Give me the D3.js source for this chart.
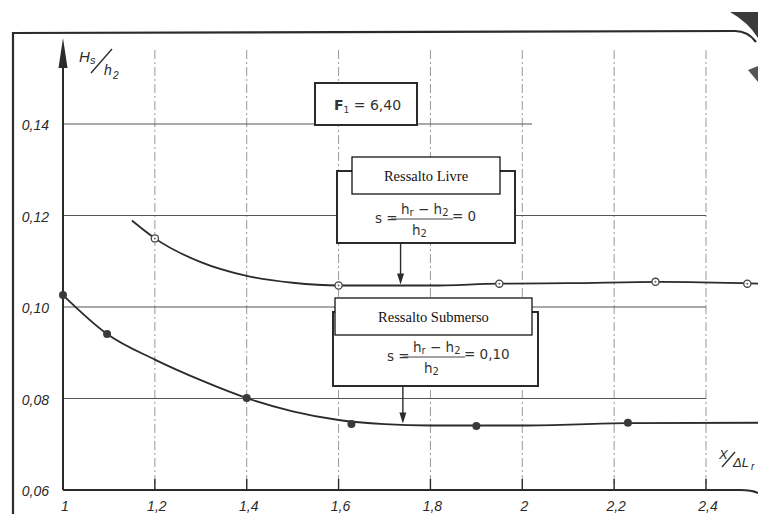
<!DOCTYPE html>
<html>
<head>
<meta charset="utf-8">
<script src="https://cdn.jsdelivr.net/npm/d3@7"></script>
<style>
  body { margin: 0; background: #fff; }
  svg { display: block; }
  .tick-label { font-family: "Liberation Sans", "DejaVu Sans", sans-serif; font-style: italic; font-size: 14px; fill: #2a2a2a; }
  .box-label { font-family: "Liberation Serif", "Times New Roman", serif; font-size: 14.5px; fill: #111; }
  .formula { font-family: "DejaVu Sans", sans-serif; font-size: 13.5px; fill: #333; }
</style>
</head>
<body>
<script>
// axis ticks
var xTicks = [1, 1.2, 1.4, 1.6, 1.8, 2.0, 2.2, 2.4];
var xTickLabels = ["1", "1,2", "1,4", "1,6", "1,8", "2", "2,2", "2,4"];
var yTicks = [0.06, 0.08, 0.10, 0.12, 0.14];
var yTickLabels = ["0,06", "0,08", "0,10", "0,12", "0,14"];

// Ressalto Livre (s = 0) - drawn curve and measured points (open circles)
var livreCurveX = [1.15, 1.2, 1.3, 1.4, 1.5, 1.6, 1.8, 1.95, 2.1, 2.3, 2.52];
var livreCurveY = [0.1189, 0.1150, 0.1098, 0.1068, 0.1053, 0.1047, 0.1047, 0.1051, 0.1052, 0.1055, 0.1051];
var livrePtsX = [1.2, 1.6, 1.95, 2.29, 2.49];
var livrePtsY = [0.1150, 0.1047, 0.1051, 0.1055, 0.1051];

// Ressalto Submerso (s = 0,10) - drawn curve and measured points (filled)
var subCurveX = [1.0, 1.096, 1.2, 1.3, 1.4, 1.5, 1.6, 1.7, 1.8, 2.0, 2.23, 2.52];
var subCurveY = [0.1026, 0.0941, 0.0885, 0.0840, 0.0801, 0.0772, 0.0753, 0.0744, 0.0741, 0.0741, 0.0746, 0.0747];
var subPtsX = [1.0, 1.096, 1.4, 1.628, 1.90, 2.23];
var subPtsY = [0.1026, 0.0941, 0.0801, 0.0744, 0.0740, 0.0747];

var width = 758, height = 514;
var ink = "#2b2b2b";

var svg = d3.select("body").append("svg")
  .attr("width", width)
  .attr("height", height);

var x = d3.scaleLinear().domain([1, 2.4]).range([63, 706]);
var y = d3.scaleLinear().domain([0.06, 0.14]).range([490, 124]);

// outer frame of the scanned page
svg.append("path")
  .attr("d", "M13,514 L13,33 L735,31 Q748,31 756,42")
  .attr("fill", "none").attr("stroke", ink).attr("stroke-width", 2.2);
// dark corner of the scan
svg.append("path")
  .attr("d", "M730,12 L758,12 L758,38 Q748,22 730,12 Z")
  .attr("fill", "#3a3a3a");
svg.append("path")
  .attr("d", "M748,70 L758,66 L758,82 Z")
  .attr("fill", "#555");

// vertical grid (dash-dot)
svg.append("g").selectAll("line")
  .data(xTicks.slice(1))
  .enter().append("line")
  .attr("x1", function(d){ return x(d); })
  .attr("x2", function(d){ return x(d); })
  .attr("y1", 50)
  .attr("y2", y(0.06))
  .attr("stroke", "#999").attr("stroke-width", 1)
  .attr("stroke-dasharray", "9,3,2,3");

// horizontal grid
svg.append("g").selectAll("line")
  .data(yTicks.slice(1))
  .enter().append("line")
  .attr("x1", x(1))
  .attr("x2", function(d){ return d === 0.14 ? 532 : x(2.4); })
  .attr("y1", function(d){ return y(d); })
  .attr("y2", function(d){ return y(d); })
  .attr("stroke", "#555").attr("stroke-width", 1.1);

// x axis line
svg.append("path")
  .attr("d", "M" + x(1) + "," + y(0.06) + " L740," + y(0.06) + " Q752," + y(0.06) + " 758," + (y(0.06) + 3))
  .attr("fill", "none").attr("stroke", ink).attr("stroke-width", 2);

// x ticks
svg.append("g").selectAll("line")
  .data(xTicks.slice(1))
  .enter().append("line")
  .attr("x1", function(d){ return x(d); })
  .attr("x2", function(d){ return x(d); })
  .attr("y1", y(0.06))
  .attr("y2", y(0.06) - 11)
  .attr("stroke", ink).attr("stroke-width", 1.4);

svg.append("g").selectAll("text")
  .data(xTicks)
  .enter().append("text")
  .attr("class", "tick-label")
  .attr("x", function(d){ return x(d) + 2; })
  .attr("y", 511)
  .attr("text-anchor", "middle")
  .text(function(d, i){ return xTickLabels[i]; });

// y axis with arrow
svg.append("line")
  .attr("x1", x(1)).attr("x2", x(1))
  .attr("y1", y(0.06)).attr("y2", 60)
  .attr("stroke", ink).attr("stroke-width", 2);
svg.append("path")
  .attr("d", "M" + x(1) + ",38 L" + (x(1) + 4.5) + ",68 L" + (x(1) - 4.5) + ",68 Z")
  .attr("fill", ink);

svg.append("g").selectAll("text")
  .data(yTicks)
  .enter().append("text")
  .attr("class", "tick-label")
  .attr("x", 49)
  .attr("y", function(d){ return y(d) + 6; })
  .attr("text-anchor", "end")
  .text(function(d, i){ return yTickLabels[i]; });

// y axis title Hs/h2
var yt = svg.append("g").attr("class", "tick-label");
yt.append("text").attr("x", 79).attr("y", 62).style("font-size", "15px").text("H");
yt.append("text").attr("x", 90).attr("y", 64).style("font-size", "11px").text("s");
yt.append("line").attr("x1", 91).attr("y1", 73).attr("x2", 112).attr("y2", 49)
  .attr("stroke", ink).attr("stroke-width", 1.4);
yt.append("text").attr("x", 104).attr("y", 75).style("font-size", "14px").text("h");
yt.append("text").attr("x", 113).attr("y", 79).style("font-size", "10px").text("2");

// x axis title X/ΔLr
var xt = svg.append("g").attr("class", "tick-label");
xt.append("text").attr("x", 719).attr("y", 459).style("font-size", "13px").text("X");
xt.append("line").attr("x1", 722).attr("y1", 467).attr("x2", 735).attr("y2", 452)
  .attr("stroke", ink).attr("stroke-width", 1.3);
xt.append("text").attr("x", 733).attr("y", 467).style("font-size", "13px").text("ΔL");
xt.append("text").attr("x", 751).attr("y", 470).style("font-size", "10px").text("r");

// curves
var line = d3.line()
  .x(function(d){ return x(d[0]); })
  .y(function(d){ return y(d[1]); })
  .curve(d3.curveMonotoneX);

svg.append("path")
  .datum(d3.zip(livreCurveX, livreCurveY))
  .attr("d", line)
  .attr("fill", "none").attr("stroke", ink).attr("stroke-width", 1.8);

svg.append("path")
  .datum(d3.zip(subCurveX, subCurveY))
  .attr("d", line)
  .attr("fill", "none").attr("stroke", ink).attr("stroke-width", 1.8);

// measured points
var lp = svg.append("g").selectAll("g")
  .data(d3.zip(livrePtsX, livrePtsY))
  .enter().append("g");
lp.append("circle")
  .attr("cx", function(d){ return x(d[0]); })
  .attr("cy", function(d){ return y(d[1]); })
  .attr("r", 3.6)
  .attr("fill", "#fff").attr("stroke", "#444").attr("stroke-width", 1.3);
lp.append("circle")
  .attr("cx", function(d){ return x(d[0]); })
  .attr("cy", function(d){ return y(d[1]); })
  .attr("r", 1)
  .attr("fill", "#666");

svg.append("g").selectAll("circle")
  .data(d3.zip(subPtsX, subPtsY))
  .enter().append("circle")
  .attr("cx", function(d){ return x(d[0]); })
  .attr("cy", function(d){ return y(d[1]); })
  .attr("r", 4)
  .attr("fill", "#3a3a3a");

// F1 box
svg.append("rect")
  .attr("x", 315).attr("y", 83).attr("width", 102).attr("height", 42)
  .attr("fill", "#fff").attr("stroke", ink).attr("stroke-width", 2);
var f1 = svg.append("text")
  .attr("x", 334).attr("y", 110)
  .style("font-family", "'DejaVu Sans', sans-serif").style("font-size", "14px").style("fill", "#333");
f1.append("tspan").style("font-weight", "bold").text("F");
f1.append("tspan").attr("dy", 3).style("font-size", "9px").text("1");
f1.append("tspan").attr("dy", -3).text(" = 6,40");

// annotation box with label and formula
function annot(outer, inner, label, fx, fy, rhs, arrowX, arrowTo) {
  svg.append("rect")
    .attr("x", outer[0]).attr("y", outer[1]).attr("width", outer[2]).attr("height", outer[3])
    .attr("fill", "#fff").attr("stroke", ink).attr("stroke-width", 2);
  svg.append("rect")
    .attr("x", inner[0]).attr("y", inner[1]).attr("width", inner[2]).attr("height", inner[3])
    .attr("fill", "#fff").attr("stroke", "#000").attr("stroke-width", 1.2);
  svg.append("text").attr("class", "box-label")
    .attr("x", inner[0] + inner[2] / 2).attr("y", inner[1] + inner[3] / 2 + 5)
    .attr("text-anchor", "middle").text(label);

  var g = svg.append("g").attr("class", "formula");
  g.append("text").attr("x", fx).attr("y", fy + 4).text("s =");
  var num = g.append("text").attr("x", fx + 26).attr("y", fy - 5);
  num.append("tspan").text("h");
  num.append("tspan").attr("dy", 2).style("font-size", "10px").text("r");
  num.append("tspan").attr("dy", -2).text(" − h");
  num.append("tspan").attr("dy", 2).style("font-size", "10px").text("2");
  g.append("line").attr("x1", fx + 16).attr("x2", fx + 78).attr("y1", fy).attr("y2", fy)
    .attr("stroke", "#444").attr("stroke-width", 1);
  var den = g.append("text").attr("x", fx + 37).attr("y", fy + 16);
  den.append("tspan").text("h");
  den.append("tspan").attr("dy", 2).style("font-size", "10px").text("2");
  g.append("text").attr("x", fx + 77).attr("y", fy + 2).text("= " + rhs);

  svg.append("line")
    .attr("x1", arrowX).attr("x2", arrowX)
    .attr("y1", outer[1] + outer[3]).attr("y2", arrowTo - 8)
    .attr("stroke", ink).attr("stroke-width", 1.4);
  svg.append("path")
    .attr("d", "M" + arrowX + "," + (arrowTo - 1) + " L" + (arrowX - 3.5) + "," + (arrowTo - 12) +
      " L" + (arrowX + 3.5) + "," + (arrowTo - 12) + " Z")
    .attr("fill", ink);
}

annot([337, 171, 178, 72], [352, 157, 148, 37], "Ressalto Livre", 375, 219, "0",
  x(1.735), y(0.1047));
annot([333, 312, 205, 74], [335, 298, 197, 37], "Ressalto Submerso", 387, 357, "0,10",
  x(1.74), y(0.0743));
</script>
</body>
</html>
